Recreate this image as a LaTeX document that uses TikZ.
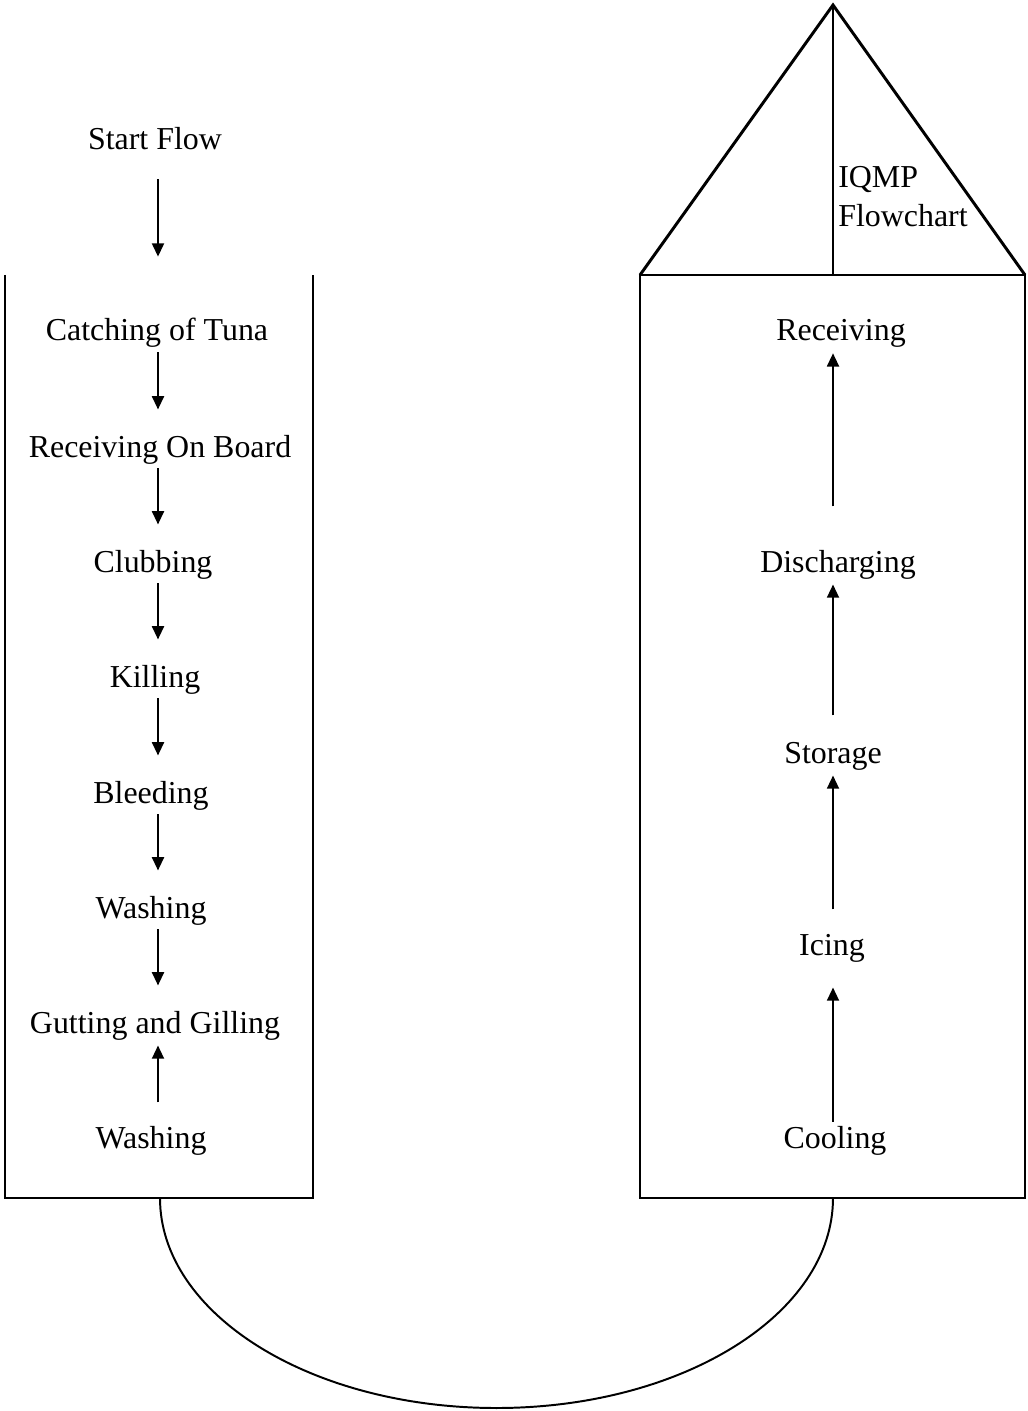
\documentclass[tikz,border=0pt]{standalone}
\usepackage{fontspec}
\setmainfont{Liberation Serif}
\usetikzlibrary{arrows.meta}
\begin{document}
\begin{tikzpicture}[x=0.025cm,y=-0.025cm,
  lbl/.style={font=\fontsize{22.7}{27}\selectfont, inner sep=0pt, text height=16pt, text depth=5pt, anchor=base},
  lbll/.style={font=\fontsize{22.7}{27}\selectfont, inner sep=0pt, anchor=base west},
  frame/.style={line width=2.1pt, line join=miter},
  arr/.style={line width=1.3pt, -{Triangle[width=0.3cm,length=0.33cm]}},
  loop/.style={line width=1.4pt}]
\useasboundingbox (0,0) rectangle (1027,1411);

% left column
\draw[frame] (5,275) -- (5,1198) -- (313,1198) -- (313,275);
\coordinate (lx) at (158,0);
\node[lbl] (start) at (155,150) {Start Flow};
\node[lbl] (catch) at (157,341) {Catching of Tuna};
\node[lbl] (board) at (160,457) {Receiving On Board};
\node[lbl] (club) at (153,572) {Clubbing};
\node[lbl] (kill) at (155,687) {Killing};
\node[lbl] (bleed) at (151,803) {Bleeding};
\node[lbl] (wash1) at (151,918) {Washing};
\node[lbl] (gut) at (155,1033) {Gutting and Gilling};
\node[lbl] (wash2) at (151,1148) {Washing};

\draw[arr] ([yshift=-0.55cm]start.south -| lx) -- ([yshift=1.54cm]catch.north -| lx);
\draw[arr] ([yshift=-0.1cm]catch.south -| lx) -- ([yshift=0.62cm]board.north -| lx);
\draw[arr] ([yshift=-0.1cm]board.south -| lx) -- ([yshift=0.62cm]club.north -| lx);
\draw[arr] ([yshift=-0.1cm]club.south -| lx) -- ([yshift=0.62cm]kill.north -| lx);
\draw[arr] ([yshift=-0.1cm]kill.south -| lx) -- ([yshift=0.62cm]bleed.north -| lx);
\draw[arr] ([yshift=-0.1cm]bleed.south -| lx) -- ([yshift=0.62cm]wash1.north -| lx);
\draw[arr] ([yshift=-0.1cm]wash1.south -| lx) -- ([yshift=0.62cm]gut.north -| lx);
\draw[arr] ([yshift=0.57cm]wash2.north -| lx) -- ([yshift=-0.13cm]gut.south -| lx);

% right column
\draw[frame] (640,275) rectangle (1025,1198);
\draw[frame] (640,275) -- (833,5) -- (1025,275);
\draw[frame] (833,5) -- (833,275);
\coordinate (rx) at (833,0);
\node[lbll] (iqmp) at (838,188) {IQMP};
\node[lbll] (flow) at (838,227) {Flowchart};
\node[lbl] (recv) at (841,340) {Receiving};
\node[lbl] (disc) at (838,572) {Discharging};
\node[lbl] (stor) at (833,763) {Storage};
\node[lbl] (icing) at (832,955) {Icing};
\node[lbl] (cool) at (835,1148) {Cooling};

\draw[arr] ([yshift=1.07cm]disc.north -| rx) -- ([yshift=-0.15cm]recv.south -| rx);
\draw[arr] ([yshift=0.62cm]stor.north -| rx) -- ([yshift=-0.13cm]disc.south -| rx);
\draw[arr] ([yshift=0.57cm]icing.north -| rx) -- ([yshift=-0.13cm]stor.south -| rx);
\draw[arr] ([yshift=0.09cm]cool.north -| rx) -- ([yshift=-0.63cm]icing.south -| rx);

% connecting loop
\coordinate (lend) at (160,1198);
\coordinate (rend) at (833,1198);
\coordinate (bot) at (496.5,1408);
\draw[loop] (lend) .. controls (160,1314) and (310.7,1408) .. (bot)
  .. controls (682.3,1408) and (833,1314) .. (rend);
\end{tikzpicture}
\end{document}
